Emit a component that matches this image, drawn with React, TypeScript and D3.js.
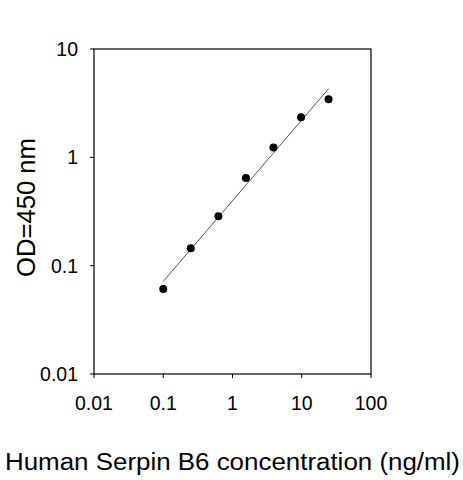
import React, { useEffect, useRef } from 'react';
import * as d3 from 'd3';

// concentrations (ng/ml) and OD readings
const concentration = [0.1, 0.25, 0.625, 1.5625, 3.9, 9.77, 24.4];
const od = [0.061, 0.145, 0.286, 0.644, 1.23, 2.34, 3.43];
const xTicks = [0.01, 0.1, 1, 10, 100];
const yTicks = [0.01, 0.1, 1, 10];
const xTitle = 'Human Serpin B6 concentration (ng/ml)';
const yTitle = 'OD=450 nm';

export default () => {
  const svgRef = useRef<SVGSVGElement>(null);

  const width = 463;
  const height = 480;
  const left = 94;
  const right = 371;
  const top = 49;
  const bottom = 374;
  const tickSize = 4;
  const font = 'Arial, "Liberation Sans", sans-serif';

  useEffect(() => {
    if (!svgRef.current) {
      return;
    }
    const svg = d3.select(svgRef.current);
    svg.selectAll('*').remove();

    const x = d3.scaleLog().domain([0.01, 100]).range([left, right]);
    const y = d3.scaleLog().domain([0.01, 10]).range([bottom, top]);

    // frame
    svg.append('rect')
      .attr('x', left)
      .attr('y', top)
      .attr('width', right - left)
      .attr('height', bottom - top)
      .attr('fill', 'none')
      .attr('stroke', '#000')
      .attr('stroke-width', 1.2);

    // x ticks + labels
    const xAxis = svg.append('g');
    xAxis.selectAll('line')
      .data(xTicks)
      .enter()
      .append('line')
      .attr('x1', d => x(d))
      .attr('x2', d => x(d))
      .attr('y1', bottom)
      .attr('y2', bottom + tickSize)
      .attr('stroke', '#000');
    xAxis.selectAll('text')
      .data(xTicks)
      .enter()
      .append('text')
      .text(d => String(d))
      .attr('x', d => x(d))
      .attr('y', 410)
      .attr('text-anchor', 'middle')
      .attr('style', `font-family: ${font}; font-size: 19.5px; fill: #000;`);

    // y ticks + labels
    const yAxis = svg.append('g');
    yAxis.selectAll('line')
      .data(yTicks)
      .enter()
      .append('line')
      .attr('x1', left - tickSize)
      .attr('x2', left)
      .attr('y1', d => y(d))
      .attr('y2', d => y(d))
      .attr('stroke', '#000');
    yAxis.selectAll('text')
      .data(yTicks)
      .enter()
      .append('text')
      .text(d => String(d))
      .attr('x', 78)
      .attr('y', d => y(d))
      .attr('dy', '0.36em')
      .attr('text-anchor', 'end')
      .attr('style', `font-family: ${font}; font-size: 19.5px; fill: #000;`);

    // power-law fit in log-log space
    const lx = concentration.map(Math.log10);
    const ly = od.map(Math.log10);
    const mx = d3.mean(lx) || 0;
    const my = d3.mean(ly) || 0;
    const slope = d3.sum(lx, (v, i) => (v - mx) * (ly[i] - my)) / d3.sum(lx, v => (v - mx) ** 2);
    const fit = (c: number) => Math.pow(10, my + slope * (Math.log10(c) - mx));
    const ends = [concentration[0], concentration[concentration.length - 1]];

    const fitLine = d3.line<number>()
      .x(d => x(d))
      .y(d => y(fit(d)));

    svg.append('path')
      .datum(ends)
      .attr('d', fitLine)
      .attr('fill', 'none')
      .attr('stroke', '#555')
      .attr('stroke-width', 1);

    // points
    svg.append('g')
      .selectAll('circle')
      .data(concentration)
      .enter()
      .append('circle')
      .attr('cx', d => x(d))
      .attr('cy', (d, i) => y(od[i]))
      .attr('r', 4)
      .attr('fill', '#000');

    // titles
    svg.append('text')
      .text(xTitle)
      .attr('x', 5)
      .attr('y', 470)
      .attr('textLength', 455)
      .attr('lengthAdjust', 'spacingAndGlyphs')
      .attr('style', `font-family: ${font}; font-size: 23px; fill: #000;`);

    svg.append('text')
      .text(yTitle)
      .attr('transform', 'translate(35, 277) rotate(-90)')
      .attr('x', 0)
      .attr('y', 0)
      .attr('textLength', 139)
      .attr('lengthAdjust', 'spacingAndGlyphs')
      .attr('style', `font-family: ${font}; font-size: 25px; fill: #000;`);
  }, []);

  return (
    <svg
      ref={svgRef}
      width={width}
      height={height}
      style={{ position: 'absolute', left: 0, top: 0, background: '#fff' }}
    />
  );
};
